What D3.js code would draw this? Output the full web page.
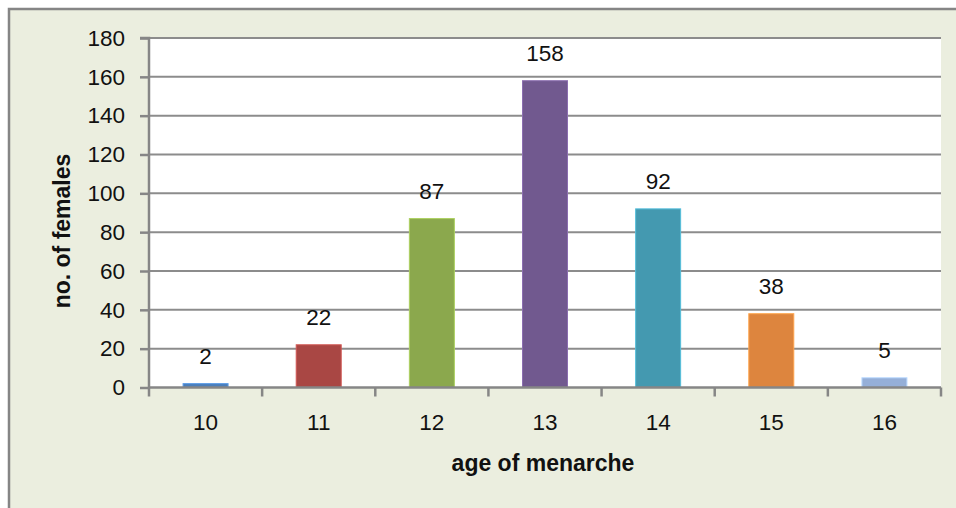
<!DOCTYPE html>
<html><head><meta charset="utf-8">
<script src="https://cdn.jsdelivr.net/npm/d3@7"></script>
<style>
html,body{margin:0;padding:0;background:#fff;}
svg text{font-family:"Liberation Sans",Arial,sans-serif;fill:#111;}
</style></head>
<body>
<svg id="chart" width="956" height="508"></svg>
<script>
const categories = ["10","11","12","13","14","15","16"];
const values = [2, 22, 87, 158, 92, 38, 5];
const colors = ["#4A7EBB","#A94744","#8BA84D","#71598F","#4499B0","#DD853E","#95AFD8"];
const yTicks = [0,20,40,60,80,100,120,140,160,180];
const xTitle = "age of menarche";
const yTitle = "no. of females";

const svg = d3.select("#chart");
svg.append("rect").attr("x",9).attr("y",9).attr("width",960).attr("height",520)
  .attr("fill","#EBEEDF").attr("stroke","#858585").attr("stroke-width",2.5);

const m = {left:149, right:941, top:38, bottom:387.5};
const x = d3.scaleBand().domain(categories).range([m.left,m.right]).paddingInner(0).paddingOuter(0);
const y = d3.scaleLinear().domain([0,180]).range([m.bottom,m.top]);

svg.append("rect").attr("x",m.left).attr("y",m.top).attr("width",m.right-m.left).attr("height",m.bottom-m.top).attr("fill","#fff");

// gridlines
svg.append("g").selectAll("line").data(yTicks.filter(d=>d>0)).join("line")
  .attr("x1",m.left).attr("x2",m.right).attr("y1",d=>y(d)).attr("y2",d=>y(d))
  .attr("stroke","#8C8C8C").attr("stroke-width",2);

// bars
const bw = 45;
svg.append("g").selectAll("rect").data(values).join("rect")
  .attr("x",(d,i)=>x(categories[i])+x.bandwidth()/2-bw/2)
  .attr("width",bw)
  .attr("y",d=>y(d)).attr("height",d=>y(0)-y(d))
  .attr("fill",(d,i)=>colors[i])
  .attr("stroke",(d,i)=>d3.color(colors[i]).brighter(0.6)).attr("stroke-width",1);

// data labels
svg.append("g").selectAll("text").data(values).join("text")
  .attr("x",(d,i)=>x(categories[i])+x.bandwidth()/2)
  .attr("y",d=>y(d)-27)
  .attr("text-anchor","middle").attr("dominant-baseline","central")
  .style("font-size","22.5px").text(d=>d);

// y axis
const yAxis = d3.axisLeft(y).tickValues(yTicks).tickSize(9).tickPadding(15);
const gy = svg.append("g").attr("transform",`translate(${m.left},0)`).call(yAxis);
gy.select(".domain").attr("stroke","#868686").attr("stroke-width",2.5).attr("d",`M-9,${m.top}H0V${m.bottom}`);
gy.selectAll(".tick line").attr("stroke","#868686").attr("stroke-width",2.5);
gy.selectAll(".tick text").style("font-size","22.5px").attr("fill","#111");

// x axis
const xAxis = d3.axisBottom(x).tickSize(0).tickPadding(27);
const gx = svg.append("g").attr("transform",`translate(0,${m.bottom})`).call(xAxis);
gx.select(".domain").attr("stroke","#868686").attr("stroke-width",2.5).attr("d",`M${m.left},0H${m.right}`);
gx.selectAll(".tick text").style("font-size","22.5px").attr("fill","#111");
// boundary tick marks
const bounds = categories.map(c=>x(c)).concat([m.right]);
gx.append("g").selectAll("line").data(bounds).join("line")
  .attr("x1",d=>d).attr("x2",d=>d).attr("y1",0).attr("y2",9)
  .attr("stroke","#868686").attr("stroke-width",2.5);

// titles
svg.append("text").attr("x",543).attr("y",463)
  .attr("text-anchor","middle").attr("dominant-baseline","central")
  .style("font-size","23px").style("font-weight","bold").text(xTitle);
svg.append("text").attr("transform",`translate(62,231) rotate(-90)`)
  .attr("text-anchor","middle").attr("dominant-baseline","central")
  .style("font-size","23px").style("font-weight","bold").text(yTitle);
</script>
</body></html>
